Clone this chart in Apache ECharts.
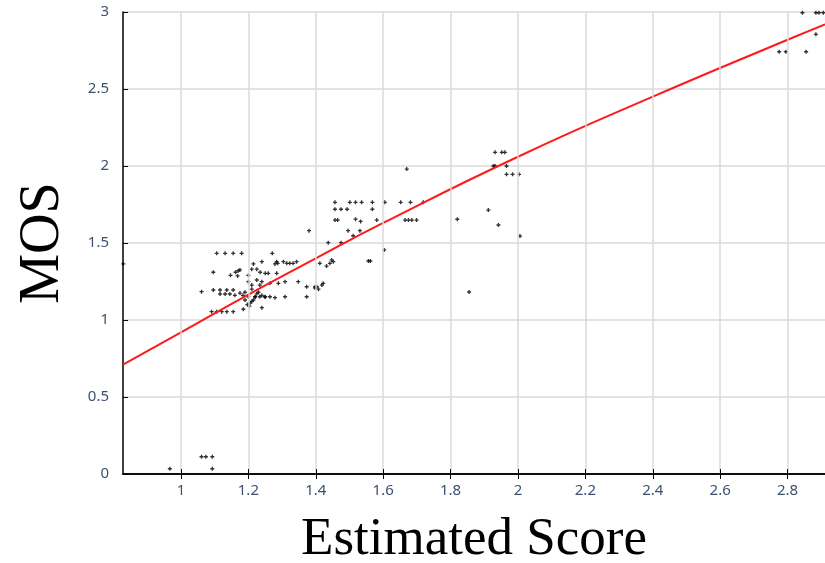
<!DOCTYPE html>
<html><head><meta charset="utf-8">
<script src="https://cdn.jsdelivr.net/npm/echarts@6/dist/echarts.min.js"></script>
<style>html,body{margin:0;padding:0;background:#fff}#c{width:825px;height:563px}</style>
</head><body><div id="c"></div>
<script>
const xTickValues = [1, 1.2, 1.4, 1.6, 1.8, 2, 2.2, 2.4, 2.6, 2.8];
const yTickValues = [0, 0.5, 1, 1.5, 2, 2.5, 3];
const xRange = [0.828, 2.911];
const yRange = [0, 3];

const mosPoints = [
  [0.967,0.034],[1.061,0.112],[1.074,0.112],[1.093,0.112],[1.093,0.034],
  [0.829,1.364],
  [1.106,1.433],[1.131,1.433],[1.155,1.433],[1.180,1.433],
  [1.096,1.31],[1.147,1.29],[1.162,1.31],[1.170,1.32],[1.175,1.325],[1.168,1.286],
  [1.2,1.29],[1.215,1.364],[1.21,1.33],
  [1.061,1.184],
  [1.096,1.195],[1.116,1.195],[1.136,1.195],[1.155,1.195],
  [1.116,1.169],[1.131,1.169],[1.145,1.169],[1.16,1.16],[1.175,1.175],[1.184,1.16],[1.19,1.18],
  [1.2,1.15],[1.21,1.2],[1.22,1.15],[1.225,1.17],[1.19,1.13],[1.205,1.11],[1.215,1.13],[1.23,1.18],[1.24,1.16],[1.25,1.15],
  [1.197,1.1],[1.203,1.09],[1.21,1.12],
  [1.091,1.054],[1.106,1.054],[1.121,1.054],[1.136,1.054],[1.155,1.054],[1.185,1.07],
  [1.2,1.249],[1.21,1.227],[1.225,1.26],
  [1.271,1.433],[1.24,1.379],[1.284,1.379],[1.279,1.364],[1.287,1.368],
  [1.304,1.379],[1.314,1.368],[1.323,1.368],[1.333,1.368],[1.343,1.379],
  [1.25,1.303],[1.259,1.303],[1.284,1.303],
  [1.225,1.33],[1.235,1.31],
  [1.24,1.249],[1.234,1.227],[1.264,1.238],[1.289,1.238],[1.309,1.249],[1.348,1.249],
  [1.373,1.216],[1.398,1.216],[1.408,1.2],[1.422,1.238],
  [1.22,1.151],[1.234,1.151],[1.249,1.151],[1.264,1.151],[1.279,1.145],[1.309,1.151],[1.373,1.151],
  [1.24,1.08],
  [1.457,1.764],[1.501,1.764],[1.518,1.764],[1.536,1.764],[1.568,1.764],
  [1.457,1.719],[1.475,1.719],[1.493,1.719],[1.568,1.719],
  [1.457,1.649],[1.465,1.649],[1.518,1.655],[1.533,1.64],[1.581,1.649],
  [1.496,1.58],[1.531,1.58],[1.511,1.547],
  [1.437,1.502],[1.475,1.502],
  [1.412,1.368],[1.432,1.35],[1.442,1.368],[1.452,1.379],[1.447,1.39],
  [1.556,1.383],[1.562,1.383],
  [1.403,1.216],[1.418,1.227],[1.398,1.208],
  [1.603,1.455],[1.38,1.58],
  [1.67,1.98],[1.605,1.764],[1.652,1.764],[1.681,1.764],[1.719,1.764],
  [1.665,1.649],[1.675,1.649],[1.685,1.649],[1.699,1.649],
  [1.932,2.089],[1.952,2.089],[1.961,2.089],[1.927,2.0],[1.932,2.0],[1.966,2.0],
  [1.966,1.946],[1.984,1.946],[2.003,1.946],
  [1.82,1.654],[1.912,1.714],[1.942,1.617],[2.006,1.545],[1.855,1.182],
  [2.844,2.995],[2.884,2.995],[2.893,2.995],[2.906,2.995],[2.884,2.855],
  [2.775,2.742],[2.795,2.742],[2.855,2.742]
];

const fitLine = [
  [0.828,0.71],[1.0,0.92],[1.2,1.165],[1.4,1.40],[1.6,1.63],[2.0,2.06],
  [2.4,2.45],[2.8,2.82],[2.911,2.92]
];

const labelColor = '#3d5070';
const chart = echarts.init(document.getElementById('c'));
chart.setOption({
  animation: false,
  grid: {left: 123, right: 0, top: 12, bottom: 89, containLabel: false, outerBoundsMode: 'none'},
  xAxis: [{
    type: 'value', min: xRange[0], max: xRange[1],
    name: 'Estimated Score', nameLocation: 'middle', nameGap: 40,
    nameTextStyle: {fontFamily: 'Liberation Serif', fontSize: 53, color: '#000'},
    axisLine: {onZero: false, lineStyle: {color: '#000', width: 1.5}},
    axisTick: {inside: true, length: 5, customValues: xTickValues, lineStyle: {color: '#000'}},
    axisLabel: {customValues: xTickValues, color: labelColor, fontSize: 15, fontFamily: 'Noto Sans', margin: 9},
    splitLine: {show: true, lineStyle: {color: '#dadada', width: 1.5}},
    z: 5
  }, {
    type: 'value', position: 'top', min: xRange[0], max: xRange[1],
    axisLine: {show: true, lineStyle: {color: '#000', width: 1.5}},
    axisTick: {inside: true, length: 5, customValues: xTickValues, lineStyle: {color: '#000'}},
    axisLabel: {show: false}, splitLine: {show: false}
  }],
  yAxis: [{
    type: 'value', min: yRange[0], max: yRange[1], interval: 0.5,
    name: 'MOS', nameLocation: 'middle', nameGap: 52, nameRotate: 90,
    nameTextStyle: {fontFamily: 'Liberation Serif', fontSize: 56, color: '#000'},
    axisLine: {show: true, onZero: false, lineStyle: {color: '#000', width: 1.5}},
    axisTick: {show: true, inside: true, length: 5, lineStyle: {color: '#000'}},
    axisLabel: {color: labelColor, fontSize: 15, fontFamily: 'Noto Sans', margin: 14,
      formatter: v => String(yTickValues.find(t => Math.abs(t - v) < 1e-9) ?? v)},
    splitLine: {show: true, lineStyle: {color: '#dadada', width: 1.5}}
  }],
  series: [{
    type: 'scatter', xAxisIndex: 0, yAxisIndex: 0, data: mosPoints,
    symbol: 'path://M1,0H2V1H3V2H2V3H1V2H0V1H1Z', symbolSize: 4, itemStyle: {color: '#000'}, silent: true
  }, {
    type: 'line', xAxisIndex: 0, yAxisIndex: 0, data: fitLine, smooth: true,
    symbol: 'none', lineStyle: {color: '#ff1a1a', width: 2}, silent: true
  }]
});
</script></body></html>
